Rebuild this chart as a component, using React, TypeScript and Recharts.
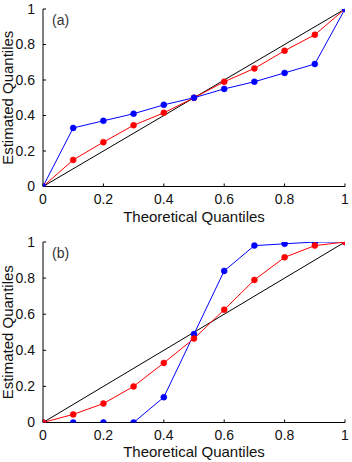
import React from "react";
import {
  LineChart,
  Line,
  XAxis,
  YAxis,
  ReferenceLine,
  Label,
} from "recharts";

const quantiles = [0, 0.1, 0.2, 0.3, 0.4, 0.5, 0.6, 0.7, 0.8, 0.9, 1];
const blueA = [0, 0.33, 0.37, 0.41, 0.46, 0.5, 0.55, 0.59, 0.64, 0.69, 1];
const redA = [0, 0.15, 0.25, 0.345, 0.415, 0.5, 0.59, 0.665, 0.765, 0.855, 1];
const blueB = [0, 0, 0, 0, 0.14, 0.49, 0.84, 0.98, 0.99, 1, 1];
const redB = [0, 0.045, 0.105, 0.2, 0.33, 0.465, 0.625, 0.79, 0.915, 0.98, 1];
const axisTicks = [0, 0.2, 0.4, 0.6, 0.8, 1];
const tickLabels = ["0", "0.2", "0.4", "0.6", "0.8", "1"];

const FONT = "'Liberation Sans', Arial, Helvetica, sans-serif";
const RED = "#ff0000";
const BLUE = "#0000ff";

type PanelProps = {
  blue: number[];
  red: number[];
  redOnTop: boolean;
  marginTop: number;
  xLabelOffset: number;
  tag: string;
};

const fmt = (v: number) => tickLabels[axisTicks.indexOf(v)] ?? String(v);
const blank = () => "";

function Panel({ blue, red, redOnTop, marginTop, xLabelOffset, tag }: PanelProps) {
  const data = quantiles.map((q, i) => ({ q, blue: blue[i], red: red[i] }));
  const tickStyle = { fill: "#111", fontSize: 14, fontFamily: FONT };
  const blueLine = (
    <Line
      key="blue"
      dataKey="blue"
      stroke={BLUE}
      strokeWidth={1}
      dot={{ r: 3, fill: BLUE, stroke: BLUE, strokeWidth: 0.5 }}
      isAnimationActive={false}
    />
  );
  const redLine = (
    <Line
      key="red"
      dataKey="red"
      stroke={RED}
      strokeWidth={1}
      dot={{ r: 3, fill: RED, stroke: RED, strokeWidth: 0.5 }}
      isAnimationActive={false}
    />
  );
  return (
    <div style={{ position: "relative", width: 352, height: 231 }}>
      <LineChart
        width={352}
        height={231}
        data={data}
        margin={{ top: marginTop, right: 7, bottom: 0, left: 0 }}
      >
        <XAxis
          dataKey="q"
          type="number"
          domain={[0, 1]}
          ticks={axisTicks}
          tickFormatter={fmt}
          height={231 - marginTop - 177.5 - (marginTop > 10 ? 3 : 0)}
          tickSize={-3}
          tickMargin={11}
          tick={tickStyle}
          axisLine={{ stroke: "#000" }}
          tickLine={{ stroke: "#000" }}
          allowDataOverflow
        >
          <Label
            value="Theoretical Quantiles"
            position="insideBottom"
            offset={xLabelOffset}
            style={{ fill: "#111", fontSize: 15, fontFamily: FONT }}
          />
        </XAxis>
        <XAxis
          xAxisId="top"
          dataKey="q"
          type="number"
          orientation="top"
          domain={[0, 1]}
          ticks={axisTicks}
          tickFormatter={blank}
          height={0}
          tickSize={-3}
          tick={{ fontSize: 1 }}
          axisLine={{ stroke: "#000" }}
          tickLine={{ stroke: "#000" }}
        />
        <YAxis
          type="number"
          domain={[0, 1]}
          ticks={axisTicks}
          tickFormatter={fmt}
          width={43}
          tickSize={-3}
          tickMargin={11}
          tick={tickStyle}
          axisLine={{ stroke: "#000" }}
          tickLine={{ stroke: "#000" }}
          allowDataOverflow
        >
          <Label
            value="Estimated Quantiles"
            angle={-90}
            position="insideLeft"
            offset={8}
            style={{ fill: "#111", fontSize: 15, fontFamily: FONT, textAnchor: "middle" }}
          />
        </YAxis>
        <YAxis
          yAxisId="right"
          type="number"
          orientation="right"
          domain={[0, 1]}
          ticks={axisTicks}
          tickFormatter={blank}
          width={0}
          tickSize={-3}
          tick={{ fontSize: 1 }}
          axisLine={{ stroke: "#000" }}
          tickLine={{ stroke: "#000" }}
        />
        <ReferenceLine
          segment={[
            { x: 0, y: 0 },
            { x: 1, y: 1 },
          ]}
          stroke="#000"
          strokeWidth={1}
          ifOverflow="visible"
        />
        {redOnTop ? [blueLine, redLine] : [redLine, blueLine]}
      </LineChart>
      <div
        style={{
          position: "absolute",
          left: 52,
          top: marginTop + 3,
          fontSize: 14,
          fontFamily: FONT,
          color: "#333",
          lineHeight: "16px",
        }}
      >
        {tag}
      </div>
    </div>
  );
}

export default function App() {
  return (
    <div
      style={{
        position: "absolute",
        left: 0,
        top: 0,
        width: 352,
        height: 462,
        background: "#fff",
        fontFamily: FONT,
      }}
    >
      <Panel blue={blueA} red={redA} redOnTop={false} marginTop={9} xLabelOffset={9.3} tag="(a)" />
      <Panel blue={blueB} red={redB} redOnTop={true} marginTop={11} xLabelOffset={5.3} tag="(b)" />
    </div>
  );
}
